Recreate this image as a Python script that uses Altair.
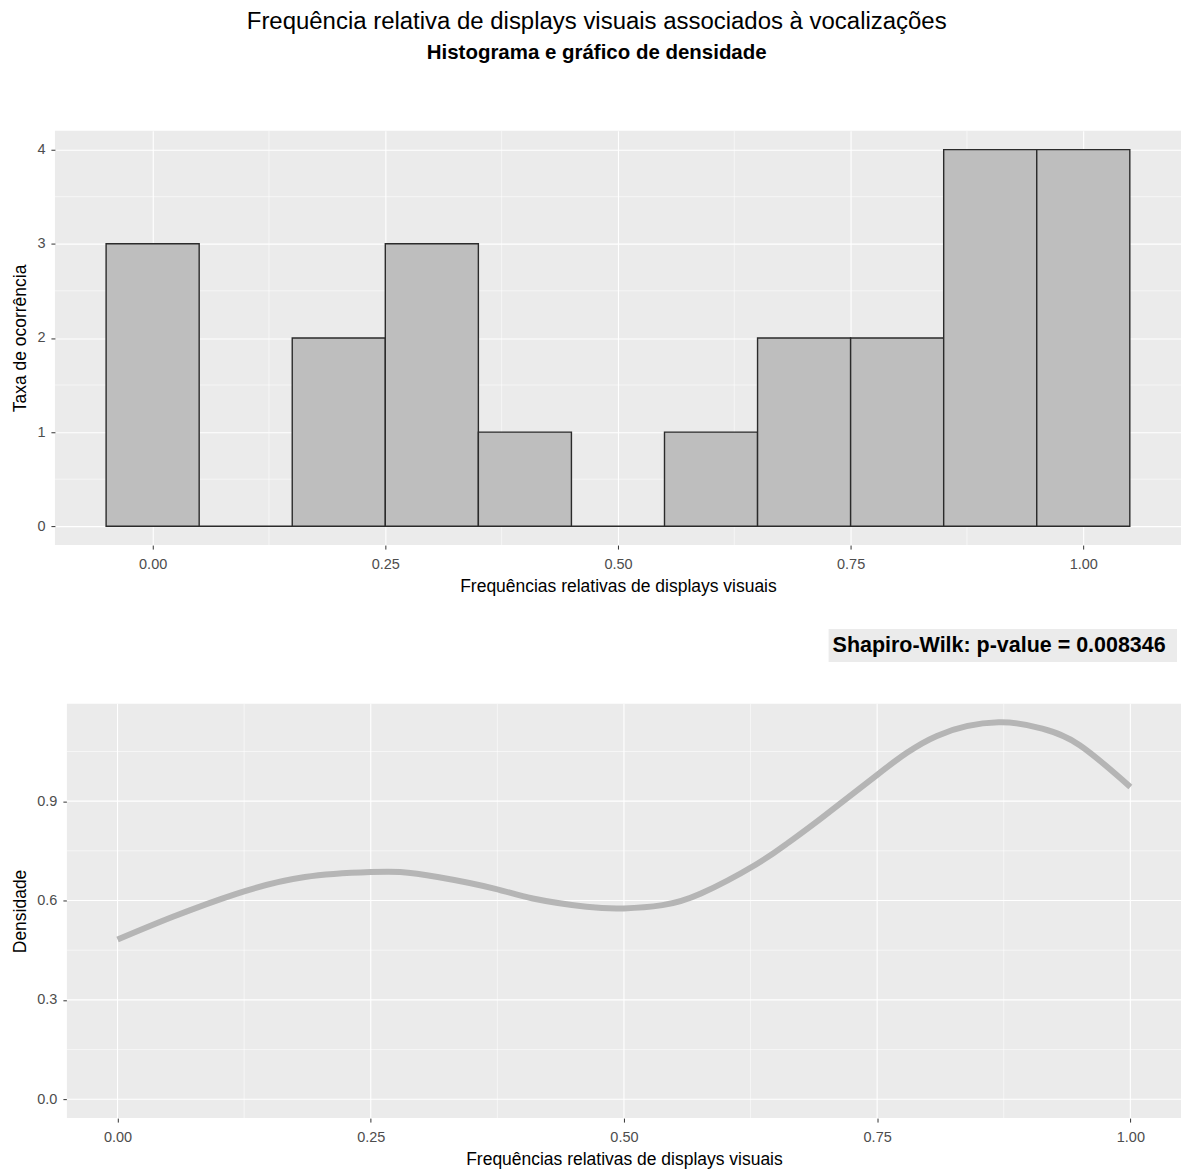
import altair as alt
import pandas as pd

FONT = "Liberation Sans"

# ---- data ----
bin_centers = [0.0, 0.1, 0.2, 0.3, 0.4, 0.5, 0.6, 0.7, 0.8, 0.9, 1.0]
bin_counts = [3, 0, 2, 3, 1, 0, 1, 2, 2, 4, 4]

dens_x = [0.000, 0.054, 0.118, 0.185, 0.250, 0.279, 0.316, 0.372, 0.410, 0.463,
          0.500, 0.538, 0.576, 0.630, 0.662, 0.695, 0.751, 0.809, 0.870, 0.913,
          0.950, 1.000]
dens_y = [0.482, 0.550, 0.621, 0.671, 0.686, 0.686, 0.671, 0.636, 0.606, 0.581,
          0.576, 0.586, 0.621, 0.708, 0.774, 0.849, 0.982, 1.097, 1.138, 1.119,
          1.069, 0.943]

x_ticks = [0.0, 0.25, 0.5, 0.75, 1.0]
x_minor = [0.125, 0.375, 0.625, 0.875]
hist_y_ticks = [0, 1, 2, 3, 4]
hist_y_minor = [0.5, 1.5, 2.5, 3.5]
dens_y_ticks = [0.0, 0.3, 0.6, 0.9]
dens_y_minor = [0.15, 0.45, 0.75, 1.05]

title_text = "Frequência relativa de displays visuais associados à vocalizações"
subtitle_text = "Histograma e gráfico de densidade"
x_title = "Frequências relativas de displays visuais"
hist_y_title = "Taxa de ocorrência"
dens_y_title = "Densidade"
annotation = "Shapiro-Wilk: p-value = 0.008346"

# ---- tables ----
hist_df = pd.DataFrame({"center": bin_centers, "count": bin_counts})
dens_df = pd.DataFrame({"x": dens_x, "y": dens_y})
xmajor_df = pd.DataFrame({"v": x_ticks})
xminor_df = pd.DataFrame({"v": x_minor})
hminor_df = pd.DataFrame({"v": hist_y_minor})
dmajor_df = pd.DataFrame({"v": dens_y_ticks})
dminor_df = pd.DataFrame({"v": dens_y_minor})
one_row = alt.Data(values=[{}])

PANEL = "#EBEBEB"
MINOR_W = 0.55
MAJOR_W = 1.1

# ---- histogram panel ----
xs_top = alt.Scale(domain=[-0.105, 1.105], nice=False, zero=False)
ys_top = alt.Scale(domain=[-0.2, 4.2], nice=False, zero=False)

x_axis_top = alt.Axis(values=x_ticks, format=".2f", title=x_title)
y_axis_top = alt.Axis(values=hist_y_ticks, format="d", title=hist_y_title)

bars = alt.Chart(hist_df).transform_calculate(
    x0="datum.center - 0.05", x1="datum.center + 0.05", zero="0"
).mark_rect(fill="#BEBEBE", stroke="#2B2B2B", strokeWidth=1.4).encode(
    x=alt.X("x0:Q", scale=xs_top, axis=x_axis_top),
    x2="x1:Q",
    y=alt.Y("count:Q", scale=ys_top, axis=y_axis_top),
    y2="zero:Q",
)
top_minor_x = alt.Chart(xminor_df).mark_rule(color="white", strokeWidth=MINOR_W).encode(
    x=alt.X("v:Q", scale=xs_top, axis=x_axis_top))
top_minor_y = alt.Chart(hminor_df).mark_rule(color="white", strokeWidth=MINOR_W).encode(
    y=alt.Y("v:Q", scale=ys_top, axis=y_axis_top))

top = alt.layer(top_minor_x, top_minor_y, bars).properties(
    width=1128, height=415,
    view=alt.ViewBackground(fill=PANEL, stroke=None),
)

# ---- density panel (panel starts 12px right of the shared left origin) ----
SHIFT = 12
BOT_W = 1128
xs_bot = alt.Scale(domain=[-0.05, 1.05], range=[SHIFT, BOT_W], nice=False, zero=False)
ys_bot = alt.Scale(domain=[-0.057, 1.194], nice=False, zero=False)

x_axis_bot = alt.Axis(values=x_ticks, format=".2f", title=x_title, grid=False)
y_axis_bot = alt.Axis(values=dens_y_ticks, format=".1f", title=dens_y_title,
                      grid=False, offset=-SHIFT)

bg = alt.Chart(one_row).mark_rect(color=PANEL).encode(
    x=alt.value(SHIFT), x2=alt.value("width"), y=alt.value(0), y2=alt.value("height"))

bot_minor_x = alt.Chart(xminor_df).mark_rule(color="white", strokeWidth=MINOR_W).encode(
    x=alt.X("v:Q", scale=xs_bot, axis=x_axis_bot))
bot_minor_y = alt.Chart(dminor_df).mark_rule(color="white", strokeWidth=MINOR_W).encode(
    y=alt.Y("v:Q", scale=ys_bot, axis=y_axis_bot),
    x=alt.value(SHIFT), x2=alt.value("width"))
bot_major_x = alt.Chart(xmajor_df).mark_rule(color="white", strokeWidth=MAJOR_W).encode(
    x=alt.X("v:Q", scale=xs_bot, axis=x_axis_bot))
bot_major_y = alt.Chart(dmajor_df).mark_rule(color="white", strokeWidth=MAJOR_W).encode(
    y=alt.Y("v:Q", scale=ys_bot, axis=y_axis_bot),
    x=alt.value(SHIFT), x2=alt.value("width"))

line = alt.Chart(dens_df).mark_line(color="#B5B5B5", strokeWidth=6,
                                    interpolate="natural").encode(
    x=alt.X("x:Q", scale=xs_bot, axis=x_axis_bot),
    y=alt.Y("y:Q", scale=ys_bot, axis=y_axis_bot),
)

ann_box = alt.Chart(one_row).mark_rect(color=PANEL).encode(
    x=alt.value(775), x2=alt.value(1124), y=alt.value(-75), y2=alt.value(-42))
ann_text = alt.Chart(one_row).mark_text(
    text=annotation, font=FONT, fontSize=21.5, fontWeight="bold", color="black",
    align="left", baseline="middle").encode(x=alt.value(779), y=alt.value(-58))

bottom = alt.layer(bg, bot_minor_x, bot_minor_y, bot_major_x, bot_major_y, line,
                   ann_box, ann_text).properties(
    width=BOT_W, height=415,
    view=alt.ViewBackground(fill="white", stroke=None),
)

chart = alt.vconcat(top, bottom, spacing=34).properties(
    padding={"left": 3, "top": 1, "right": 0, "bottom": 0},
    title=alt.Title(
        text=title_text, subtitle=subtitle_text,
        font=FONT, fontSize=24, fontWeight="normal", color="black",
        subtitleFont=FONT, subtitleFontSize=20.5, subtitleFontWeight="bold",
        subtitleColor="black", subtitlePadding=9,
        anchor="middle", offset=67,
    ),
).configure_view(
    stroke=None
).configure_axis(
    domain=False, grid=True, gridColor="white", gridWidth=MAJOR_W,
    ticks=True, tickColor="#333333", tickSize=4, tickWidth=1,
    labelColor="#4D4D4D", labelFont=FONT, labelFontSize=14.5, labelPadding=6,
    titleColor="black", titleFont=FONT, titleFontSize=17.5, titleFontWeight="normal",
    titlePadding=7,
).configure_axisX(labelPadding=8, titlePadding=7)

chart.save("out.html", embed_options={"renderer": "svg", "actions": False})
